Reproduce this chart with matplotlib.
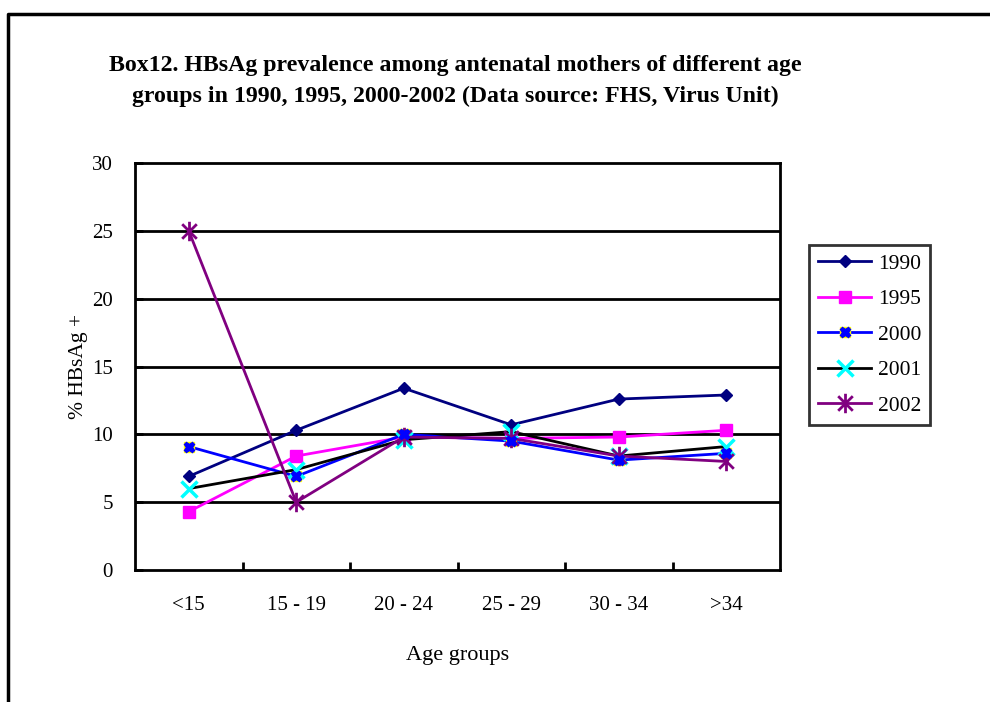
import matplotlib
matplotlib.use("Agg")
import matplotlib.pyplot as plt
from matplotlib.path import Path
from matplotlib.lines import Line2D
from matplotlib.legend_handler import HandlerTuple

plt.rcParams['font.family'] = ['Liberation Serif', 'DejaVu Serif']

categories = ["<15", "15 - 19", "20 - 24", "25 - 29", "30 - 34", ">34"]
v1990 = [6.9, 10.3, 13.4, 10.7, 12.6, 12.9]
v1995 = [4.3, 8.4, 9.8, 9.7, 9.8, 10.3]
v2000 = [9.1, 6.9, 10.0, 9.5, 8.1, 8.6]
v2001 = [6.0, 7.4, 9.6, 10.2, 8.4, 9.1]
v2002 = [25.0, 5.0, 9.8, 9.7, 8.4, 8.0]
years = ["1990", "1995", "2000", "2001", "2002"]
yticks = [0, 5, 10, 15, 20, 25, 30]

title = ("Box12. HBsAg prevalence among antenatal mothers of different age\n"
         "groups in 1990, 1995, 2000-2002 (Data source: FHS, Virus Unit)")

star = Path([(0, -1), (0, 1), (-0.75, -0.75), (0.75, 0.75), (-0.75, 0.75), (0.75, -0.75)],
            [Path.MOVETO, Path.LINETO, Path.MOVETO, Path.LINETO, Path.MOVETO, Path.LINETO])

fig = plt.figure(figsize=(9.9, 7.02), dpi=100)
ax = fig.add_axes([135/990, 1-570/702, 645/990, 407/702])

x = list(range(len(categories)))
lw = 2.0
h1, = ax.plot(x, v1990, color="#000080", lw=lw, marker="D", ms=6, mfc="#000080", mec="#000080", zorder=3)
h2, = ax.plot(x, v1995, color="#FF00FF", lw=lw, marker="s", ms=8, mfc="#FF00FF", mec="#FF00FF", zorder=3)
h3a, = ax.plot(x, v2000, color="#0000FF", lw=lw, marker="s", ms=7.5, mfc="#FFFF00", mec="#FFFF00", zorder=3)
h3b, = ax.plot(x, v2000, color="#0000FF", lw=0, marker="X", ms=7.5, mfc="#0000FF", mec="#0000FF", zorder=3.1)
h4, = ax.plot(x, v2001, color="#000000", lw=lw, marker="x", ms=12, mew=2.5, mec="#00FFFF", zorder=3)
h5, = ax.plot(x, v2002, color="#800080", lw=lw, marker=star, ms=14, mew=2, mec="#800080", zorder=3)

ax.set_xlim(-0.5, len(categories) - 0.5)
ax.set_ylim(0, 30)
ax.set_yticks(yticks)
ax.set_yticklabels([str(t) for t in yticks], fontsize=15)
ax.set_xticks(x)
ax.set_xticklabels(categories, fontsize=15)
ax.set_xticks([i + 0.5 for i in x[:-1]], minor=True)
ax.tick_params(axis='x', which='major', length=0, pad=19)
ax.tick_params(axis='x', which='minor', length=6, width=2, direction='in')
ax.tick_params(axis='y', length=6, width=2, direction='in', pad=16)
for yv in yticks[1:-1]:
    ax.axhline(yv, color="black", lw=2, zorder=1)
for s in ax.spines.values():
    s.set_linewidth(2)

ax.set_ylabel("% HBsAg +", fontsize=15.5, labelpad=3)
ax.set_xlabel("Age groups", fontsize=16, labelpad=22)

fig.text(455/990, 1-81/702, title, ha="center", va="center", fontsize=17.2,
         fontweight="bold", linespacing=1.6)

leg = fig.legend([h1, h2, (h3a, h3b), h4, h5], years,
                 handler_map={tuple: HandlerTuple(ndivide=1, pad=0)},
                 loc="upper left", bbox_to_anchor=(809/990, 1-245/702),
                 fontsize=15.5, frameon=True, fancybox=False, edgecolor="black",
                 handlelength=2.5, labelspacing=0.72, borderpad=0.4, handletextpad=0.3,
                 borderaxespad=0)
leg.get_frame().set_linewidth(2)

fig.add_artist(Line2D([8/990, 8/990, 1.0], [0.0, 1-14/702, 1-14/702],
                      transform=fig.transFigure, color="black", lw=2.5))

fig.savefig("out.png", dpi=100)
